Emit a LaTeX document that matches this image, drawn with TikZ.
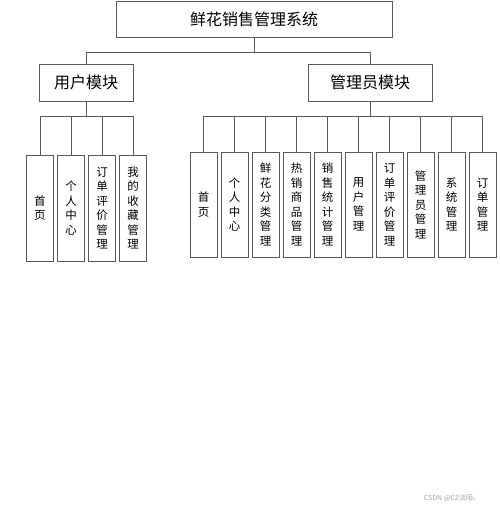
\documentclass[tikz,border=0pt]{standalone}
\usepackage{fontspec}
\newfontfamily\cjk{Noto Sans CJK SC}
\usetikzlibrary{positioning,calc}

\tikzset{
    box/.style={draw=black!65, line width=0.8pt, fill=white, inner sep=0pt, font=\cjk\fontsize{16}{19}\selectfont},
    leaf/.style={box, minimum width=27, align=center, font=\cjk\fontsize{11.5}{14.5}\selectfont},
    link/.style={draw=black!65, line width=0.8pt}
}

\begin{document}
\begin{tikzpicture}[x=1pt,y=-1pt]
    \useasboundingbox (0,0) rectangle (500,509);

    \node [box, minimum width=276, minimum height=36] (sys) at (254,19) {鲜花销售管理系统};
    \node [box, minimum width=94, minimum height=37] (user) at (86,82.5) {用户模块};
    \node [box, minimum width=124, minimum height=37] (admin) at (370,82.5) {管理员模块};

    \draw [link] (sys.south) -- ++(0,16);
    \draw [link] (user.north) -- ++(0,-11) -| (admin.north);

    % user leaves
    \foreach \txt [count=\i] in {{首\\页},{个\\人\\中\\心},{订\\单\\评\\价\\管\\理},{我\\的\\收\\藏\\管\\理}} {
        \node [leaf, minimum height=106] (uleaf\i) at ({40+31*(\i-1)},208) {\txt};
        \draw [link] (user.south) -- ++(0,15) -| (uleaf\i.north);
    }

    % admin leaves
    \foreach \txt [count=\i] in {{首\\页},{个\\人\\中\\心},{鲜\\花\\分\\类\\管\\理},{热\\销\\商\\品\\管\\理},{销\\售\\统\\计\\管\\理},{用\\户\\管\\理},{订\\单\\评\\价\\管\\理},{管\\理\\员\\管\\理},{系\\统\\管\\理},{订\\单\\管\\理}} {
        \node [leaf, minimum height=105] (aleaf\i) at ({203.5+31*(\i-1)},204.5) {\txt};
        \draw [link] (admin.south) -- ++(0,15) -| (aleaf\i.north);
    }

    \node [font=\cjk\fontsize{7}{8}\selectfont, text=black!35] (mark) at (452,498) {CSDN @CZ淡陌。};
\end{tikzpicture}
\end{document}
